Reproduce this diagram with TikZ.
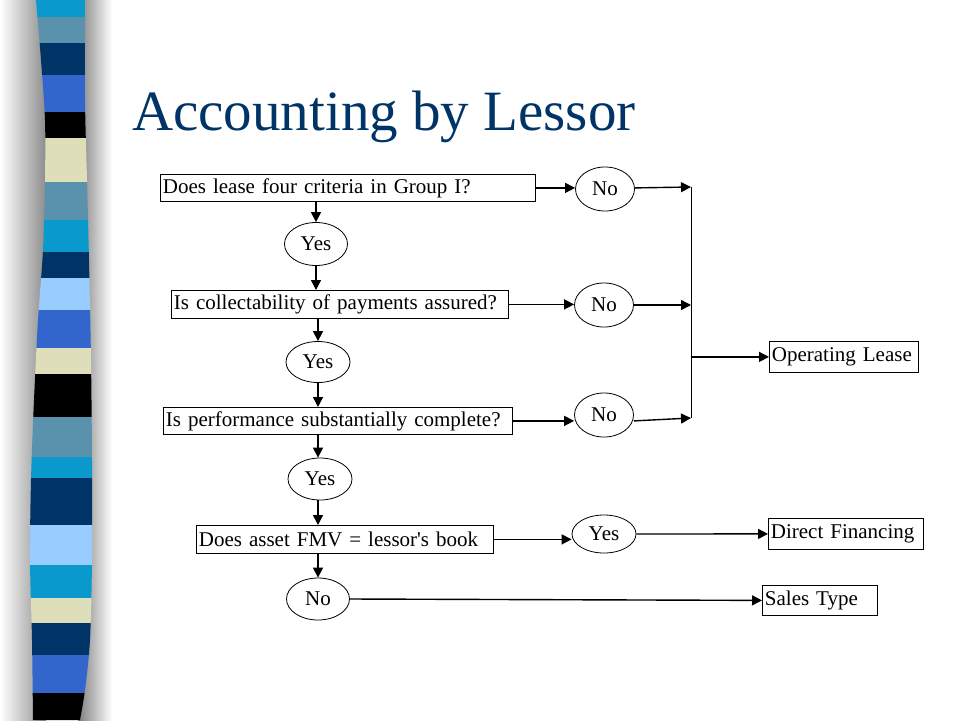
\documentclass[tikz,border=0pt]{standalone}
\usepackage{fontspec}
\setmainfont{Liberation Serif}[Ligatures=TeXOff]
\usetikzlibrary{shapes.geometric,arrows.meta,calc}
\definecolor{titleblue}{HTML}{003366}
\definecolor{lb}{HTML}{0A99CC}
\definecolor{sb}{HTML}{5A91AD}
\definecolor{nv}{HTML}{003366}
\definecolor{rb}{HTML}{3366CC}
\definecolor{bk}{HTML}{000000}
\definecolor{bg}{HTML}{DEDEBA}
\definecolor{pb}{HTML}{99CCFF}
\tikzset{
  qbox/.style={draw, line width=0.8pt, rectangle, anchor=north west, inner xsep=2.5pt, inner ysep=0pt,
    align=left, font=\fontsize{21}{24}\selectfont},
  oval/.style={draw, line width=0.8pt, ellipse, inner sep=0pt, font=\fontsize{21}{24}\selectfont},
  arr/.style={-{Triangle[length=10pt,width=10pt]}, line width=1.4pt},
  plain/.style={line width=1.1pt}
}
\begin{document}
\begin{tikzpicture}[x=1pt,y=-1pt]
\useasboundingbox (0,0) rectangle (960,720);
\fill[white] (0,0) rectangle (960,720);
% shadows
\shade[left color=white, right color=black!45] (0,0) rectangle (46,720);
\shade[left color=black!50, right color=white] (78,0) rectangle (112,720);
% striped bar
\begin{scope}
\clip plot[smooth] coordinates {(36,0) (41,60) (45,120) (45,180) (43,250) (38,320) (34,400) (31,480) (30,560) (32,640) (33,720)}
  -- plot[smooth] coordinates {(80,720) (85,690) (90,640) (92,560) (92,460) (91,360) (89,260) (87,180) (85,100) (85,0)} -- cycle;
\foreach \a/\b/\c in {0/17/lb, 17/43/sb, 43/75/nv, 75/112/rb, 112/138/bk, 138/182/bg, 182/220/sb, 220/252/lb,
  252/278/nv, 278/310/pb, 310/348/rb, 348/374/bg, 374/417/bk, 417/457/sb, 457/478/lb, 478/525/nv, 525/565/pb,
  565/598/lb, 598/623/bg, 623/655/nv, 655/693/rb, 693/721/bk}
  \fill[\c] (20,\a) rectangle (100,\b);
\end{scope}
% title
\node[anchor=base west, inner sep=0pt, text=titleblue, font=\fontsize{57}{60}\selectfont] (title) at (132,130) {Accounting by Lessor};
% boxes
\node[qbox, text width=370pt, minimum height=27pt] (b1) at (160,174) {Does lease four criteria in Group I?};
\node[qbox, text width=332pt, minimum height=28pt] (b2) at (171,290) {Is collectability of payments assured?};
\node[qbox, text width=344pt, minimum height=27pt] (b3) at (163,407) {Is performance substantially complete?};
\node[qbox, text width=292pt, minimum height=28pt] (b4) at (196,525) {Does asset FMV = lessor's book};
\node[qbox, text width=144pt, minimum height=31pt] (op) at (769,341) {Operating Lease};
\node[qbox, text width=150pt, minimum height=31pt] (df) at (768,518) {Direct Financing};
\node[qbox, text width=110pt, minimum height=30pt] (st) at (762,585) {Sales Type};
% ovals
\node[oval, minimum width=63pt, minimum height=43pt] (y1) at (316,244) {Yes};
\node[oval, minimum width=64pt, minimum height=41pt] (y2) at (318,362) {Yes};
\node[oval, minimum width=64pt, minimum height=42pt] (y3) at (320,479) {Yes};
\node[oval, minimum width=63pt, minimum height=42pt] (n4) at (318,599) {No};
\node[oval, minimum width=59pt, minimum height=44pt] (n1) at (605,189) {No};
\node[oval, minimum width=59pt, minimum height=44pt] (n2) at (604,305) {No};
\node[oval, minimum width=59pt, minimum height=44pt] (n3) at (604,415) {No};
\node[oval, minimum width=64pt, minimum height=38pt] (y4) at (604,534) {Yes};
% junction
\coordinate (jt) at (691,187);
\coordinate (jb) at (691,418);
% vertical chain
\draw[arr] (y1.north |- b1.south) -- (y1.north);
\draw[arr] (y1.south) -- (y1.south |- b2.north);
\draw[arr] (y2.north |- b2.south) -- (y2.north);
\draw[arr] (y2.south) -- (y2.south |- b3.north);
\draw[arr] ($(y3.north |- b3.south)+(-2,0)$) -- ($(y3.north)+(-2,0)$);
\draw[arr] ($(y3.south)+(-2,0)$) -- ($(y3.south |- b4.north)+(-2,0)$);
\draw[arr] (n4.north |- b4.south) -- (n4.north);
% horizontal
\draw[arr] (b1.east) -- (b1.east -| n1.west);
\draw[arr] (b2.east) -- (b2.east -| n2.west);
\draw[arr] (b3.east) -- (b3.east -| n3.west);
\draw[arr] (n1.east |- b1.east) -- (jt);
\draw[arr] (n2.east) -- (n2.east -| jt);
\draw[arr] (n3.east |- b3.east) -- (jb);
\draw[plain, line width=0.8pt] (jt) -- (jb);
\draw[arr] (jt |- op.west) -- (op.west);
\draw[arr] (b4.east) -- (b4.east -| y4.west);
\draw[arr] (y4.east) -- (df.west);
\draw[arr] (n4.east) -- (st.west);
\end{tikzpicture}
\end{document}
